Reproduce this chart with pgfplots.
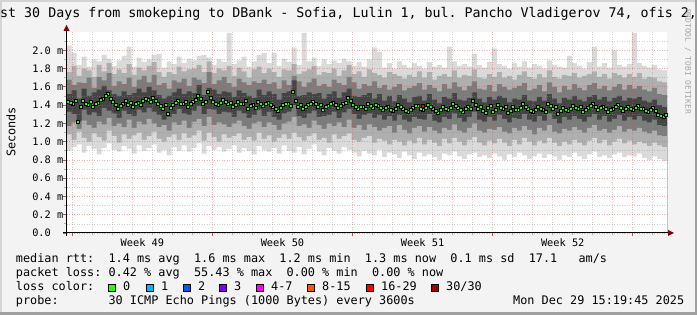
\documentclass[border=0pt]{standalone}
\usepackage{fontspec}
\setmainfont{DejaVu Sans}
\setmonofont{DejaVu Sans Mono}
\usepackage{pgfplots}
\pgfplotsset{compat=1.18}
\usepackage{pgfplotstable}

\definecolor{bgc}{HTML}{F3F3F3}
\definecolor{shadea}{HTML}{D4D4D4}
\definecolor{shadeb}{HTML}{A0A0A0}
\definecolor{sA}{HTML}{DADADA}
\definecolor{sB}{HTML}{AFAFAF}
\definecolor{sC}{HTML}{7C7C7C}
\definecolor{sD}{HTML}{444444}
\definecolor{arrowc}{HTML}{7F0000}
\definecolor{mgrid}{HTML}{DE5050}
\definecolor{ngrid}{HTML}{8F8F8F}
\definecolor{lc0}{HTML}{26FF00}
\definecolor{lc1}{HTML}{00B8FF}
\definecolor{lc2}{HTML}{0059FF}
\definecolor{lc3}{HTML}{7E00FF}
\definecolor{lc4}{HTML}{FF00FF}
\definecolor{lc5}{HTML}{FF5500}
\definecolor{lc6}{HTML}{FF0000}
\definecolor{lc7}{HTML}{A10000}

\pgfplotstableread{
x lo1 lo2 lo3 lo4 ma mb hi4 hi3 hi2 hi1
0.00 0.90 1.08 1.17 1.33 1.44 1.43 1.52 1.68 1.76 2.05
0.25 0.94 1.02 1.21 1.30 1.41 1.45 1.56 1.62 1.83 1.97
0.50 0.97 1.11 1.14 1.22 1.22 1.38 1.47 1.65 1.72 1.84
0.75 0.88 1.04 1.23 1.35 1.45 1.42 1.58 1.64 1.80 1.93
1.00 0.95 1.00 1.18 1.29 1.40 1.44 1.50 1.70 1.78 1.82
1.25 0.92 1.09 1.15 1.32 1.38 1.41 1.54 1.59 1.71 1.90
1.50 0.86 1.05 1.22 1.28 1.43 1.46 1.57 1.71 1.84 1.88
1.75 0.93 1.01 1.19 1.37 1.47 1.50 1.61 1.67 1.77 1.95
2.00 0.98 1.12 1.26 1.34 1.52 1.47 1.56 1.75 1.86 1.91
2.25 0.91 1.06 1.17 1.31 1.44 1.40 1.52 1.61 1.74 1.83
2.50 0.89 0.99 1.20 1.26 1.36 1.39 1.50 1.66 1.79 1.89
2.75 0.95 1.08 1.16 1.34 1.42 1.45 1.55 1.63 1.75 1.94
3.00 0.92 1.03 1.24 1.30 1.40 1.43 1.51 1.70 1.85 2.04
3.25 0.87 1.07 1.15 1.28 1.38 1.41 1.53 1.60 1.73 1.82
3.50 0.96 1.10 1.22 1.35 1.43 1.40 1.58 1.68 1.81 1.92
3.75 0.90 1.02 1.19 1.32 1.45 1.47 1.54 1.72 1.78 1.87
4.00 0.93 1.06 1.25 1.37 1.46 1.44 1.60 1.65 1.83 1.90
4.25 0.97 1.11 1.20 1.33 1.48 1.45 1.56 1.73 1.87 1.95
4.50 0.88 1.03 1.16 1.29 1.42 1.39 1.51 1.62 1.76 1.96
4.75 0.91 1.00 1.18 1.24 1.36 1.40 1.47 1.64 1.71 1.81
5.00 0.85 1.05 1.12 1.27 1.31 1.37 1.50 1.58 1.76 1.88
5.25 0.94 1.08 1.21 1.30 1.40 1.43 1.54 1.67 1.74 1.85
5.50 0.90 1.02 1.18 1.36 1.45 1.42 1.58 1.65 1.82 1.93
5.75 0.96 1.09 1.23 1.31 1.42 1.44 1.52 1.69 1.77 1.86
6.00 0.89 1.04 1.15 1.29 1.38 1.41 1.55 1.61 1.79 1.91
6.25 0.93 1.07 1.22 1.34 1.44 1.46 1.53 1.70 1.80 1.89
6.50 0.98 1.12 1.25 1.39 1.50 1.47 1.62 1.68 1.84 1.94
6.75 0.87 1.01 1.17 1.30 1.41 1.44 1.51 1.64 1.76 1.95
7.00 0.95 1.10 1.27 1.36 1.55 1.48 1.59 1.76 1.88 1.92
7.25 0.91 1.05 1.18 1.35 1.44 1.42 1.57 1.63 1.75 1.84
7.50 0.94 1.00 1.21 1.30 1.40 1.43 1.52 1.67 1.80 1.90
7.75 0.89 1.08 1.19 1.33 1.46 1.44 1.55 1.71 1.78 1.87
8.00 0.92 1.04 1.16 1.32 1.41 1.43 1.54 1.64 1.83 2.19
8.25 0.96 1.06 1.20 1.27 1.38 1.40 1.49 1.60 1.72 1.85
8.50 0.88 1.09 1.23 1.34 1.44 1.41 1.56 1.69 1.81 1.89
8.75 0.93 1.02 1.17 1.31 1.42 1.45 1.53 1.65 1.77 1.93
9.00 0.90 1.05 1.14 1.26 1.36 1.39 1.50 1.62 1.70 1.82
9.25 0.86 1.01 1.20 1.29 1.40 1.37 1.48 1.66 1.79 1.88
9.50 0.95 1.10 1.22 1.35 1.44 1.42 1.57 1.64 1.82 1.95
9.75 0.91 1.03 1.16 1.28 1.39 1.41 1.51 1.68 1.75 1.97
10.00 0.89 1.07 1.21 1.33 1.43 1.40 1.55 1.63 1.80 1.86
10.25 0.93 1.00 1.18 1.27 1.38 1.36 1.52 1.65 1.76 1.97
10.50 0.87 1.04 1.13 1.24 1.34 1.37 1.46 1.58 1.71 1.83
10.75 0.96 1.08 1.20 1.31 1.40 1.42 1.53 1.67 1.79 1.91
11.00 0.90 1.03 1.22 1.33 1.42 1.39 1.55 1.62 1.78 1.87
11.25 0.88 1.10 1.27 1.40 1.55 1.45 1.67 1.72 1.85 2.03
11.50 0.94 1.05 1.17 1.28 1.38 1.40 1.50 1.66 1.74 1.84
11.75 0.86 1.01 1.19 1.26 1.36 1.38 1.51 1.60 1.77 2.19
12.00 0.92 1.06 1.15 1.31 1.40 1.42 1.54 1.65 1.79 1.88
12.25 0.97 1.09 1.23 1.34 1.44 1.41 1.52 1.69 1.83 1.92
12.50 0.89 1.02 1.18 1.27 1.38 1.40 1.53 1.61 1.73 1.83
12.75 0.85 1.04 1.14 1.28 1.35 1.38 1.47 1.63 1.76 1.90
13.00 0.93 0.99 1.20 1.29 1.39 1.42 1.52 1.60 1.75 1.85
13.25 0.90 1.08 1.17 1.33 1.43 1.40 1.55 1.68 1.80 1.89
13.50 0.87 1.03 1.21 1.26 1.37 1.39 1.48 1.64 1.72 1.86
13.75 0.94 1.06 1.16 1.32 1.41 1.43 1.54 1.62 1.78 1.91
14.00 0.91 1.09 1.24 1.36 1.48 1.45 1.58 1.71 1.84 1.88
14.25 0.88 1.02 1.15 1.30 1.40 1.38 1.50 1.65 1.74 1.83
14.50 0.84 1.00 1.18 1.25 1.36 1.38 1.49 1.58 1.77 1.87
14.75 0.90 1.04 1.13 1.29 1.38 1.36 1.51 1.63 1.71 1.82
15.00 0.87 1.06 1.19 1.31 1.42 1.39 1.53 1.61 1.79 1.90
15.25 0.85 0.99 1.16 1.26 1.37 1.40 1.47 1.66 1.75 2.03
15.50 0.91 1.03 1.12 1.29 1.39 1.37 1.52 1.59 1.73 1.98
15.75 0.83 1.01 1.15 1.24 1.35 1.37 1.45 1.62 1.70 1.81
16.00 0.88 0.97 1.17 1.28 1.38 1.35 1.50 1.57 1.76 1.86
16.25 0.86 1.02 1.10 1.23 1.34 1.36 1.44 1.60 1.74 1.80
16.50 0.82 1.00 1.18 1.29 1.40 1.38 1.51 1.63 1.72 1.88
16.75 0.89 0.96 1.13 1.24 1.36 1.34 1.47 1.56 1.69 1.84
17.00 0.85 1.01 1.09 1.22 1.33 1.35 1.43 1.59 1.73 1.81
17.25 0.81 0.98 1.15 1.27 1.37 1.39 1.49 1.61 1.71 1.86
17.50 0.88 1.04 1.17 1.25 1.39 1.36 1.50 1.64 1.77 1.83
17.75 0.84 0.97 1.11 1.24 1.35 1.37 1.45 1.57 1.70 1.80
18.00 0.86 1.02 1.16 1.30 1.40 1.38 1.52 1.62 1.76 1.87
18.25 0.83 0.99 1.12 1.23 1.36 1.34 1.46 1.59 1.68 1.82
18.50 0.80 0.95 1.09 1.21 1.32 1.35 1.42 1.55 1.72 1.84
18.75 0.87 1.03 1.15 1.27 1.38 1.36 1.49 1.63 1.74 1.81
19.00 0.85 0.98 1.13 1.25 1.35 1.37 1.47 1.58 1.71 2.04
19.25 0.89 1.04 1.19 1.31 1.42 1.39 1.53 1.65 1.78 1.88
19.50 0.84 1.00 1.12 1.26 1.37 1.35 1.46 1.60 1.70 1.83
19.75 0.81 0.96 1.10 1.22 1.33 1.36 1.45 1.56 1.73 1.85
20.00 0.86 1.02 1.15 1.27 1.38 1.36 1.48 1.61 1.72 1.82
20.25 0.88 1.05 1.20 1.33 1.45 1.40 1.54 1.66 1.79 1.96
20.50 0.83 0.99 1.12 1.24 1.36 1.38 1.47 1.58 1.70 1.84
20.75 0.85 0.96 1.10 1.22 1.34 1.32 1.43 1.57 1.69 1.81
21.00 0.82 1.01 1.14 1.27 1.37 1.39 1.49 1.62 1.74 1.87
21.25 0.87 0.98 1.13 1.23 1.33 1.35 1.46 1.55 1.71 2.02
21.50 0.84 1.03 1.16 1.29 1.40 1.37 1.50 1.63 1.76 1.85
21.75 0.80 0.99 1.11 1.25 1.36 1.38 1.48 1.60 1.70 1.83
22.00 0.86 0.95 1.09 1.21 1.32 1.34 1.43 1.57 1.72 1.80
22.25 0.83 1.02 1.15 1.26 1.38 1.35 1.47 1.59 1.68 1.86
22.50 0.88 0.97 1.12 1.25 1.35 1.37 1.46 1.61 1.73 1.82
22.75 0.85 1.04 1.17 1.30 1.41 1.38 1.51 1.64 1.77 1.88
23.00 0.81 1.00 1.13 1.24 1.36 1.34 1.45 1.56 1.71 1.81
23.25 0.84 0.96 1.08 1.22 1.33 1.35 1.44 1.58 1.69 1.85
23.50 0.87 1.01 1.15 1.28 1.38 1.36 1.49 1.62 1.74 1.83
23.75 0.82 0.98 1.12 1.23 1.35 1.33 1.45 1.55 1.70 1.80
24.00 0.86 1.04 1.18 1.31 1.42 1.39 1.52 1.65 1.78 1.89
24.25 0.84 0.99 1.11 1.25 1.36 1.38 1.47 1.60 1.71 1.84
24.50 0.80 0.95 1.09 1.20 1.31 1.34 1.42 1.54 1.69 1.82
24.75 0.85 1.00 1.14 1.27 1.37 1.35 1.48 1.61 1.73 1.81
25.00 0.83 0.97 1.12 1.24 1.34 1.36 1.46 1.57 1.72 1.94
25.25 0.88 1.02 1.16 1.28 1.39 1.37 1.50 1.63 1.75 1.86
25.50 0.84 0.99 1.13 1.25 1.36 1.38 1.46 1.59 1.70 1.83
25.75 0.81 0.96 1.10 1.22 1.33 1.35 1.44 1.56 1.72 1.80
26.00 0.86 1.01 1.15 1.27 1.37 1.39 1.49 1.62 1.74 1.87
26.25 0.89 1.04 1.18 1.30 1.41 1.38 1.51 1.64 1.77 2.04
26.50 0.83 0.98 1.12 1.24 1.35 1.37 1.46 1.58 1.71 1.82
26.75 0.85 1.02 1.14 1.28 1.38 1.36 1.49 1.61 1.74 1.86
27.00 0.82 0.96 1.10 1.22 1.33 1.35 1.44 1.56 1.69 1.81
27.25 0.86 1.00 1.13 1.25 1.36 1.38 1.48 1.60 1.75 2.00
27.50 0.88 1.03 1.17 1.29 1.40 1.37 1.50 1.63 1.73 1.84
27.75 0.83 0.98 1.11 1.23 1.34 1.36 1.45 1.57 1.70 1.82
28.00 0.85 1.01 1.14 1.27 1.38 1.36 1.48 1.62 1.74 1.85
28.25 0.84 0.97 1.12 1.24 1.35 1.37 1.47 1.58 1.71 2.19
28.50 0.87 1.00 1.15 1.28 1.39 1.36 1.49 1.61 1.75 1.86
28.75 0.82 0.98 1.11 1.23 1.36 1.34 1.45 1.57 1.69 1.83
29.00 0.80 0.95 1.09 1.21 1.33 1.35 1.43 1.55 1.71 1.81
29.25 0.84 0.99 1.12 1.24 1.37 1.34 1.46 1.59 1.70 1.84
29.50 0.81 0.96 1.07 1.18 1.30 1.28 1.40 1.52 1.66 1.79
29.75 0.79 0.94 1.06 1.17 1.27 1.29 1.38 1.51 1.65 1.78
30.00 0.79 0.94 1.06 1.17 1.27 1.29 1.38 1.51 1.65 1.78
}\smoke

\newcommand{\tickfont}{\ttfamily\fontsize{10.3}{12}\selectfont}
\newcommand{\legfont}{\ttfamily\fontsize{11.83}{14}\selectfont}

\begin{document}
\begin{tikzpicture}
\useasboundingbox (0,0) rectangle (697pt,315pt);
\clip (0,0) rectangle (697pt,315pt);
\fill[bgc] (0,0) rectangle (697pt,315pt);
\fill[shadea] (0,0) rectangle (2pt,315pt);
\fill[shadea] (0,313pt) rectangle (697pt,315pt);
\fill[shadeb] (694.5pt,0) rectangle (697pt,315pt);
\fill[shadeb] (0,0) rectangle (697pt,2.5pt);

\begin{axis}[
  at={(66.5pt,82pt)}, anchor=south west,
  scale only axis, width=600.5pt, height=200.5pt,
  xmin=0, xmax=30, ymin=0, ymax=2.195,
  axis background/.style={fill=white},
  axis x line*=bottom, axis y line*=left,
  axis line style={draw=none},
  axis on top,
  tick align=outside,
  xtick={0.29,7.29,14.29,21.29,28.29},
  minor xtick={1.29,2.29,3.29,4.29,5.29,6.29,8.29,9.29,10.29,11.29,12.29,13.29,15.29,16.29,17.29,18.29,19.29,20.29,22.29,23.29,24.29,25.29,26.29,27.29,29.29},
  xticklabels={},
  extra x ticks={3.79,10.79,17.79,24.79},
  extra x tick labels={Week 49,Week 50,Week 51,Week 52},
  extra x tick style={grid=none, major tick length=0pt,
     xticklabel style={anchor=north, inner sep=0pt, yshift=-5pt, font=\tickfont}},
  ytick={0,0.2,0.4,0.6,0.8,1.0,1.2,1.4,1.6,1.8,2.0},
  yticklabels={0.0\hphantom{~m},0.2~m,0.4~m,0.6~m,0.8~m,1.0~m,1.2~m,1.4~m,1.6~m,1.8~m,2.0~m},
  minor ytick={0.1,0.3,0.5,0.7,0.9,1.1,1.3,1.5,1.7,1.9,2.1},
  yticklabel style={anchor=east, inner sep=0pt, font=\tickfont},
  grid=both,
  major grid style={draw=mgrid, opacity=0.42, line width=0.7pt, dash pattern=on 1pt off 1.5pt},
  minor grid style={draw=ngrid, opacity=0.42, line width=0.7pt, dash pattern=on 1pt off 1.5pt},
  major tick length=3pt, minor tick length=2pt,
  every major tick/.style={draw=mgrid, line width=0.8pt},
  every minor tick/.style={draw=ngrid!70, line width=0.8pt},
  const plot mark left,
]
\addplot[fill=sA, draw=none] table[x=x, y=hi1] {\smoke} \closedcycle;
\addplot[fill=sB, draw=none] table[x=x, y=hi2] {\smoke} \closedcycle;
\addplot[fill=sC, draw=none] table[x=x, y=hi3] {\smoke} \closedcycle;
\addplot[fill=sD, draw=none] table[x=x, y=hi4] {\smoke} \closedcycle;
\addplot[fill=sC, draw=none] table[x=x, y=lo4] {\smoke} \closedcycle;
\addplot[fill=sB, draw=none] table[x=x, y=lo3] {\smoke} \closedcycle;
\addplot[fill=sA, draw=none] table[x=x, y=lo2] {\smoke} \closedcycle;
\addplot[fill=white, draw=none] table[x=x, y=lo1] {\smoke} \closedcycle;
\addplot[only marks, mark=square*, mark size=1.5pt, mark options={draw=none, fill=lc0},
  skip coords between index={120}{121}] table[x expr=\thisrow{x}+0.06, y=ma] {\smoke};
\addplot[only marks, mark=square*, mark size=1.5pt, mark options={draw=none, fill=lc0},
  skip coords between index={120}{121}] table[x expr=\thisrow{x}+0.19, y=mb] {\smoke};
\addplot[only marks, mark=square*, mark size=1.5pt, mark options={draw=none, fill=lc6}]
  coordinates {(17.8,1.39)};
\end{axis}

% axis lines and arrows
\draw[black, line width=1pt] (62.5pt,82pt) -- (668pt,82pt);
\draw[black, line width=1pt] (66.5pt,79pt) -- (66.5pt,284pt);
\fill[arrowc] (668pt,85pt) -- (674pt,82pt) -- (668pt,79pt) -- cycle;
\fill[arrowc] (63.5pt,284pt) -- (66.5pt,290pt) -- (69.5pt,284pt) -- cycle;

% title
\node[anchor=base west, inner sep=0pt, font=\ttfamily\fontsize{13.3}{15}\selectfont]
  at (-16pt,297pt) {Last 30 Days from smokeping to DBank - Sofia, Lulin 1, bul. Pancho Vladigerov 74, ofis 2,};

% unit label
\node[rotate=90, inner sep=0pt, font=\legfont] at (11pt,183pt) {Seconds};

% watermark
\node[rotate=-90, anchor=west, inner sep=0pt, text=black!35,
  font=\ttfamily\fontsize{7.9}{9}\selectfont] at (688pt,306pt) {RRDTOOL / TOBI OETIKER};

% legend
\node[anchor=base west, inner sep=0pt, font=\legfont] at (15.8pt,52pt)
  {median~rtt:~~1.4~ms~avg~~1.6~ms~max~~1.2~ms~min~~1.3~ms~now~~0.1~ms~sd~~17.1~~~am/s};
\node[anchor=base west, inner sep=0pt, font=\legfont] at (15.8pt,38pt)
  {packet~loss:~0.42~\%~avg~~55.43~\%~max~~0.00~\%~min~~0.00~\%~now};
\node[anchor=base west, inner sep=0pt, font=\legfont] at (15.8pt,24pt) {loss~color:};
\node[anchor=base west, inner sep=0pt, font=\legfont] at (15.8pt,10pt)
  {probe:~~~~~~~30~ICMP~Echo~Pings~(1000~Bytes)~every~3600s};
\node[anchor=base west, inner sep=0pt, font=\legfont] at (513pt,10pt)
  {Mon~Dec~29~15:19:45~2025};

\foreach \sx/\col/\lab in {108/lc0/0, 146/lc1/1, 183/lc2/2, 219/lc3/3, 256/lc4/4-7, 307/lc5/8-15, 366/lc6/16-29, 431/lc7/30{/}30}{
  \filldraw[fill=\col, draw=black, line width=0.9pt] (\sx pt+0.5pt,23.5pt) rectangle (\sx pt+7.5pt,30.5pt);
  \node[anchor=base west, inner sep=0pt, font=\legfont] at (\sx pt+15pt,24pt) {\lab};
}
\end{tikzpicture}
\end{document}
